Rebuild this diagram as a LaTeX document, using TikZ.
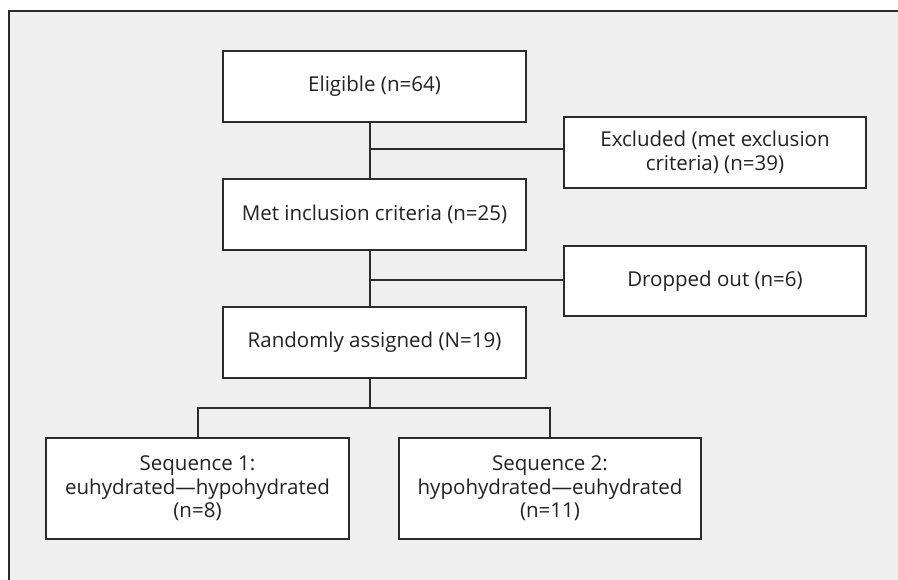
\documentclass[tikz,border=0pt]{standalone}
\usepackage{fontspec}
\setmainfont{Open Sans}
\begin{document}
\begin{tikzpicture}[x=1pt,y=-1pt,
  box/.style={draw=linec,fill=white,line width=2pt,align=center,inner sep=0pt,
    font=\fontsize{20.5}{23.5}\selectfont,text=textc},
  conn/.style={draw=linec,line width=2pt}]
\definecolor{linec}{HTML}{2B2B2B}
\definecolor{bgc}{HTML}{EEEFEE}
\definecolor{textc}{HTML}{222222}
\useasboundingbox (0,0) rectangle (898,580);
\fill[bgc] (8.5,11) rectangle (910,590);
\draw[linec,line width=2pt] (8.5,590) -- (8.5,11) -- (910,11);
\node[box,minimum width=303pt,minimum height=71pt] (elig) at (374.5,86.5) {Eligible (n=64)};
\node[box,minimum width=302pt,minimum height=71pt] (excl) at (715,152.5) {Excluded (met exclusion\\criteria) (n=39)};
\node[box,minimum width=303pt,minimum height=71pt] (met) at (374.5,214.5) {Met inclusion criteria (n=25)};
\node[box,minimum width=302pt,minimum height=70pt] (drop) at (715,281) {Dropped out (n=6)};
\node[box,minimum width=303pt,minimum height=71pt] (rand) at (374.5,342.5) {Randomly assigned (N=19)};
\node[box,minimum width=303pt,minimum height=101pt] (seqa) at (197.5,488.5) {Sequence 1:\\euhydrated—hypohydrated\\(n=8)};
\node[box,minimum width=302pt,minimum height=101pt] (seqb) at (550,488.5) {Sequence 2:\\hypohydrated—euhydrated\\(n=11)};
\coordinate (t) at (370,0);
\coordinate (ja) at (370,149);
\coordinate (jb) at (370,280);
\coordinate (jc) at (370,408);
\draw[conn] (elig.south -| t) -- (met.north -| t);
\draw[conn] (ja) -- (ja -| excl.west);
\draw[conn] (met.south -| t) -- (rand.north -| t);
\draw[conn] (jb) -- (jb -| drop.west);
\draw[conn] (rand.south -| t) -- (jc);
\draw[conn] (seqa.north) -- (seqa.north |- jc) -- (seqb.north |- jc) -- (seqb.north);
\end{tikzpicture}
\end{document}
